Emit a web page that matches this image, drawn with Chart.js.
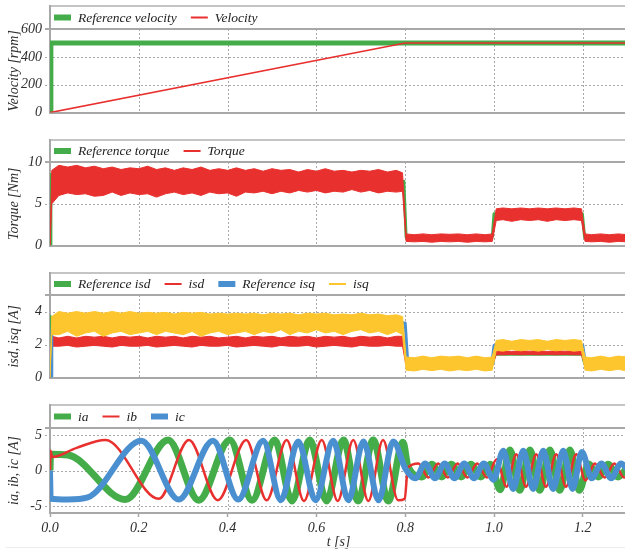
<!DOCTYPE html>
<html><head><meta charset="utf-8">
<script src="https://cdn.jsdelivr.net/npm/chart.js@4.4.0/dist/chart.umd.min.js"></script>
<style>
html,body{margin:0;padding:0;background:#fff;overflow:hidden;width:625px;height:551px;}
.p{position:absolute;left:0;}
canvas{display:block;}
#rule{position:absolute;left:6px;top:547px;width:619px;height:0;border-top:1px solid #ececec;}
</style></head><body>
<div class="p" style="top:4px"><canvas id="c1" width="640" height="120"></canvas></div>
<div class="p" style="top:138px"><canvas id="c2" width="640" height="119"></canvas></div>
<div class="p" style="top:271px"><canvas id="c3" width="640" height="118"></canvas></div>
<div class="p" style="top:403px"><canvas id="c4" width="640" height="148"></canvas></div>
<div id="rule"></div>
<script>
// ---------- data ----------
const timeTicks = [0, 0.2, 0.4, 0.6, 0.8, 1.0, 1.2];
const velTicks = [0, 200, 400, 600];
const torqueTicks = [0, 5, 10];
const dqTicks = [0, 2, 4];
const abcTicks = [-5, 0, 5];

// velocity panel
const refVelT = [0.002, 0.002, 1.3];
const refVelV = [0, 500, 500];
const velT = [0, 0.8, 1.3];
const velV = [0, 500, 500];

// shared time grid for noisy bands (torque, isd, isq)
const bandT = [0, 0.004, 0.02, 0.04, 0.06, 0.08, 0.10, 0.12, 0.14, 0.16, 0.18, 0.20, 0.22, 0.24, 0.26, 0.28, 0.30, 0.32, 0.34, 0.36, 0.38, 0.40, 0.42, 0.44, 0.46, 0.48, 0.50, 0.52, 0.54, 0.56, 0.58, 0.60, 0.62, 0.64, 0.66, 0.68, 0.70, 0.72, 0.74, 0.76, 0.78, 0.794, 0.802, 0.82, 0.84, 0.86, 0.88, 0.90, 0.92, 0.94, 0.96, 0.98, 0.996, 1.005, 1.02, 1.04, 1.06, 1.08, 1.10, 1.12, 1.14, 1.16, 1.18, 1.197, 1.205, 1.22, 1.24, 1.26, 1.28, 1.30];

// torque panel
const refTorqueT = [0.002, 0.002, 0.006, 0.797, 0.802, 0.996, 1.0, 1.199, 1.204, 1.3];
const refTorqueV = [0, 8.5, 7.7, 7.7, 1.0, 1.0, 3.8, 3.8, 1.0, 1.0];
const torqueHi = [0, 9.0, 9.6, 9.4, 9.6, 9.3, 9.5, 9.2, 9.4, 9.1, 9.3, 9.2, 9.5, 9.1, 9.3, 9.0, 9.3, 9.1, 9.4, 9.0, 9.2, 9.0, 9.3, 9.0, 9.2, 8.9, 9.2, 9.0, 9.1, 8.8, 9.1, 8.9, 9.2, 8.9, 9.0, 8.8, 9.0, 8.9, 9.1, 8.8, 9.0, 8.7, 1.4, 1.3, 1.4, 1.3, 1.4, 1.35, 1.4, 1.3, 1.4, 1.3, 1.4, 4.4, 4.5, 4.4, 4.5, 4.4, 4.5, 4.4, 4.5, 4.4, 4.5, 4.4, 1.4, 1.3, 1.4, 1.3, 1.4, 1.3];
const torqueLo = [0, 5.0, 6.0, 6.3, 6.1, 6.2, 5.9, 6.0, 6.4, 6.0, 6.3, 6.1, 6.2, 5.8, 6.2, 6.4, 6.1, 6.3, 6.0, 6.4, 6.2, 6.3, 5.9, 6.4, 6.3, 6.5, 6.2, 6.5, 6.3, 6.6, 6.4, 6.6, 6.3, 6.5, 6.4, 6.7, 6.4, 6.6, 6.3, 6.5, 6.4, 6.5, 0.5, 0.45, 0.5, 0.4, 0.5, 0.45, 0.5, 0.4, 0.5, 0.45, 0.5, 3.0, 3.1, 2.9, 3.1, 3.0, 3.1, 2.9, 3.1, 3.0, 3.1, 3.0, 0.5, 0.45, 0.5, 0.4, 0.5, 0.45];

// isd / isq panel
const refIsdT = [0, 0.0005, 0.003, 0.799, 0.804, 0.997, 1.002, 1.199, 1.204, 1.3];
const refIsdV = [0, 3.7, 2.2, 2.2, 0.85, 0.85, 1.42, 1.42, 0.85, 0.85];
const refIsqT = [0.004, 0.004, 0.006, 0.800, 0.806, 0.995, 1.000, 1.200, 1.206, 1.3];
const refIsqV = [0, 2.7, 3.3, 3.3, 0.8, 0.8, 1.95, 1.95, 0.8, 0.8];
const isqHi = [0, 3.7, 4.0, 3.9, 4.0, 3.9, 4.0, 3.9, 4.0, 3.9, 4.0, 3.9, 3.95, 3.9, 3.95, 3.85, 3.95, 3.9, 3.95, 3.85, 3.9, 3.85, 3.9, 3.85, 3.9, 3.8, 3.9, 3.85, 3.9, 3.8, 3.9, 3.85, 3.9, 3.8, 3.85, 3.8, 3.9, 3.8, 3.85, 3.75, 3.8, 3.7, 1.25, 1.2, 1.3, 1.2, 1.3, 1.25, 1.3, 1.2, 1.3, 1.2, 1.25, 2.25, 2.3, 2.2, 2.3, 2.25, 2.3, 2.2, 2.3, 2.25, 2.3, 2.25, 1.25, 1.2, 1.3, 1.2, 1.3, 1.25];
const isqLo = [0, 2.6, 2.6, 2.8, 2.5, 2.7, 2.8, 2.5, 2.7, 2.8, 2.6, 2.7, 2.8, 2.6, 2.8, 2.7, 2.6, 2.8, 2.5, 2.7, 2.8, 2.6, 2.7, 2.8, 2.6, 2.8, 2.7, 2.9, 2.6, 2.8, 2.7, 2.9, 2.7, 2.8, 2.6, 2.8, 2.9, 2.7, 2.8, 2.6, 2.8, 2.6, 0.45, 0.4, 0.5, 0.42, 0.5, 0.4, 0.48, 0.42, 0.5, 0.4, 0.45, 1.65, 1.6, 1.7, 1.62, 1.68, 1.6, 1.7, 1.62, 1.68, 1.6, 1.65, 0.45, 0.4, 0.5, 0.42, 0.5, 0.4];
const isdHi = [0, 2.5, 2.4, 2.5, 2.4, 2.5, 2.45, 2.5, 2.4, 2.5, 2.45, 2.5, 2.4, 2.5, 2.45, 2.5, 2.4, 2.5, 2.45, 2.5, 2.4, 2.45, 2.5, 2.4, 2.5, 2.45, 2.5, 2.4, 2.5, 2.45, 2.5, 2.4, 2.5, 2.45, 2.5, 2.4, 2.5, 2.45, 2.5, 2.4, 2.5, 2.5, 0.95, 0.95, 0.95, 0.95, 0.95, 0.95, 0.95, 0.95, 0.95, 0.95, 0.95, 1.6, 1.62, 1.58, 1.62, 1.6, 1.62, 1.58, 1.62, 1.6, 1.62, 1.6, 0.95, 0.95, 0.95, 0.95, 0.95, 0.95];
const isdLo = [0, 1.9, 1.9, 1.95, 1.85, 1.9, 1.95, 1.9, 1.85, 1.95, 1.9, 1.9, 1.95, 1.85, 1.9, 1.95, 1.9, 1.85, 1.95, 1.9, 1.9, 1.95, 1.85, 1.9, 1.95, 1.9, 1.85, 1.95, 1.9, 1.9, 1.95, 1.85, 1.9, 1.95, 1.9, 1.85, 1.95, 1.9, 1.9, 1.95, 1.9, 1.9, 0.7, 0.7, 0.7, 0.7, 0.7, 0.7, 0.7, 0.7, 0.7, 0.7, 0.7, 1.38, 1.38, 1.4, 1.38, 1.4, 1.38, 1.4, 1.38, 1.4, 1.38, 1.38, 0.7, 0.7, 0.7, 0.7, 0.7, 0.7];

// phase currents: extrema
const iaT = [0, 0.001, 0.04, 0.17, 0.266, 0.335, 0.405, 0.455, 0.506, 0.545, 0.585, 0.623, 0.661, 0.694, 0.728, 0.762, 0.795, 0.806, 0.838, 0.860, 0.882, 0.904, 0.926, 0.948, 0.970, 0.992, 1.014, 1.036, 1.058, 1.081, 1.103, 1.126, 1.148, 1.171, 1.192, 1.213, 1.235, 1.257, 1.279, 1.3];
const iaV = [0, 2.3, 2.2, -4.1, 4.3, -4.2, 4.3, -4.2, 4.3, -4.3, 4.3, -4.3, 4.3, -4.3, 4.3, -4.3, 4.0, 0.6, -0.9, 0.9, -0.9, 0.9, -0.9, 0.9, -0.9, 0.9, -2.7, 2.9, -2.8, 2.9, -2.8, 2.9, -2.8, 2.9, -2.8, 0.9, -0.9, 0.9, -0.9, 0.4];
const ibT = [0, 0.001, 0.005, 0.06, 0.125, 0.245, 0.313, 0.378, 0.442, 0.488, 0.533, 0.572, 0.612, 0.648, 0.683, 0.717, 0.750, 0.784, 0.799, 0.806, 0.830, 0.852, 0.874, 0.896, 0.918, 0.940, 0.962, 0.984, 1.006, 1.028, 1.050, 1.072, 1.095, 1.117, 1.140, 1.162, 1.185, 1.206, 1.227, 1.249, 1.271, 1.293, 1.3];
const ibV = [0, 2.8, 1.9, 3.2, 4.3, -4.0, 4.3, -4.2, 4.3, -4.2, 4.3, -4.3, 4.3, -4.3, 4.3, -4.3, 4.3, -4.2, -4.0, 0.4, 1.0, -1.0, 1.0, -1.0, 1.0, -1.0, 1.0, -1.0, 1.6, -2.3, 2.3, -2.3, 2.3, -2.3, 2.3, -2.3, 2.3, -1.4, 1.0, -1.0, 1.0, -1.0, -0.9];
const icT = [0, 0.0015, 0.04, 0.085, 0.206, 0.29, 0.367, 0.424, 0.480, 0.520, 0.559, 0.598, 0.638, 0.672, 0.706, 0.740, 0.773, 0.801, 0.823, 0.845, 0.867, 0.889, 0.911, 0.933, 0.955, 0.977, 0.999, 1.021, 1.043, 1.066, 1.088, 1.111, 1.133, 1.156, 1.177, 1.198, 1.220, 1.242, 1.264, 1.286, 1.3];
const icV = [0, -4.0, -4.1, -3.8, 4.2, -4.1, 4.2, -4.1, 4.2, -4.2, 4.1, -4.2, 4.2, -4.2, 4.1, -4.2, 4.1, 0.2, -1.1, 1.0, -1.1, 1.0, -1.1, 1.0, -1.1, 1.0, -1.3, 2.8, -2.6, 2.8, -2.6, 2.8, -2.6, 2.8, -2.6, 2.6, -1.1, 1.0, -1.1, 1.0, 0.2];

// ---------- styling ----------
const FONT = '"Liberation Serif", "Times New Roman", serif';
const GRID = '#a9a9a9';
const FRAME = '#a8a8a8';
const TXT = '#2e2e2e';
const NONE = 'rgba(0,0,0,0)';
const GREEN = '#44ad4a', RED = '#e8302e', BLUE = '#4a90d0', YELLOW = '#fdc62e';

function pts(ts, vs) { return ts.map((t, i) => ({x: t, y: vs[i]})); }

const frameLegend = {
  id: 'frameLegend',
  beforeDatasetsDraw(chart, args, o) {
    const {ctx, chartArea: ca, scales} = chart;
    const top = ca.top - o.height;
    ctx.save();
    // dotted grid lines, positioned by the chart's own scales
    ctx.strokeStyle = GRID;
    ctx.lineWidth = 1;
    ctx.setLineDash([2, 2]);
    ctx.beginPath();
    scales.x.ticks.forEach(t => {
      const px = Math.round(scales.x.getPixelForValue(t.value)) + 0.5;
      if (px <= ca.left + 2) return;
      ctx.moveTo(px, ca.top); ctx.lineTo(px, ca.bottom);
    });
    scales.y.ticks.forEach(t => {
      const py = Math.round(scales.y.getPixelForValue(t.value)) + 0.5;
      if (py >= ca.bottom - 2 || py <= ca.top + 2) return;
      ctx.moveTo(ca.left - 5, py); ctx.lineTo(ca.right, py);
    });
    ctx.stroke();
    ctx.setLineDash([]);
    // legend box frame
    ctx.lineWidth = 2;
    ctx.strokeStyle = '#c4c4c4';
    ctx.beginPath(); ctx.moveTo(ca.left - 1, top); ctx.lineTo(chart.width, top); ctx.stroke();
    ctx.strokeStyle = FRAME;
    ctx.beginPath();
    ctx.moveTo(ca.left - 5, ca.top); ctx.lineTo(chart.width, ca.top);
    ctx.moveTo(ca.left, top - 1); ctx.lineTo(ca.left, ca.top);
    ctx.stroke();
    ctx.restore();
  },
  afterDraw(chart, args, o) {
    const {ctx, chartArea: ca} = chart;
    const cy = ca.top - o.height / 2;
    let x = ca.left + 4;
    ctx.save();
    ctx.font = 'italic 13.5px ' + FONT;
    ctx.textBaseline = 'middle';
    ctx.textAlign = 'left';
    chart.data.datasets.forEach(ds => {
      if (!ds.legendWidth) return;
      ctx.strokeStyle = ds.borderColor;
      ctx.lineWidth = ds.legendWidth;
      ctx.beginPath(); ctx.moveTo(x, cy); ctx.lineTo(x + 17, cy); ctx.stroke();
      x += 17 + 7;
      ctx.fillStyle = '#222';
      ctx.fillText(ds.label, x, cy + 0.5);
      x += ctx.measureText(ds.label).width + 14;
    });
    ctx.restore();
  }
};

function panel(id, o) {
  return new Chart(document.getElementById(id), {
    type: 'line',
    data: {datasets: o.datasets},
    plugins: [frameLegend],
    options: {
      responsive: false, animation: false, events: [],
      layout: {padding: {top: o.padTop, bottom: o.padBottom, left: 0, right: 12.8}},
      plugins: {legend: {display: false}, tooltip: {enabled: false}, frameLegend: {height: o.legendH}},
      elements: {point: {radius: 0}, line: {borderJoinStyle: 'round'}},
      scales: {
        x: {
          type: 'linear', min: 0, max: 1.3,
          afterBuildTicks: s => { s.ticks = timeTicks.map(v => ({value: v})); },
          afterFit: s => { s.height = o.xHeight; },
          grid: {color: NONE, drawTicks: o.showX, tickLength: 4, tickColor: FRAME, tickWidth: 1.5},
          border: {color: FRAME, width: 2},
          ticks: {display: o.showX, padding: 3, color: TXT, autoSkip: false, maxRotation: 0,
                  font: {family: FONT, style: 'italic', size: 14}, callback: v => Number(v).toFixed(1)},
          title: {display: o.showX, text: 't [s]', color: TXT, padding: {top: 0, bottom: 0},
                  font: {family: FONT, style: 'italic', size: 14}}
        },
        y: {
          min: o.yMin, max: o.yMax,
          afterBuildTicks: s => { s.ticks = o.yTicks.map(v => ({value: v})); },
          afterFit: s => { s.width = 50; },
          grid: {color: NONE, tickLength: 5, tickColor: NONE},
          border: {color: FRAME, width: 2},
          ticks: {padding: 3, color: TXT, font: {family: FONT, style: 'italic', size: 14}},
          title: {display: true, text: o.yTitle, color: TXT, padding: {top: 6, bottom: 0},
                  font: {family: FONT, style: 'italic', size: 14}}
        }
      }
    }
  });
}

panel('c1', {
  padTop: 25, padBottom: 10, legendH: 23, xHeight: 0, showX: false,
  yMin: 0, yMax: 600, yTicks: velTicks, yTitle: 'Velocity [rpm]',
  datasets: [
    {label: 'Reference velocity', data: pts(refVelT, refVelV), borderColor: GREEN, borderWidth: 5, legendWidth: 6, order: 2},
    {label: 'Velocity', data: pts(velT, velV), borderColor: RED, borderWidth: 1.6, legendWidth: 2, order: 1}
  ]
});

panel('c2', {
  padTop: 24, padBottom: 10, legendH: 22, xHeight: 0, showX: false,
  yMin: 0, yMax: 10, yTicks: torqueTicks, yTitle: 'Torque [Nm]',
  datasets: [
    {label: 'Reference torque', data: pts(refTorqueT, refTorqueV), borderColor: GREEN, borderWidth: 3, legendWidth: 6, order: 3},
    {label: 'Torque', data: pts(bandT, torqueHi), borderColor: RED, backgroundColor: RED, borderWidth: 1, fill: '+1', legendWidth: 2, order: 1},
    {label: '', data: pts(bandT, torqueLo), borderColor: RED, borderWidth: 1, fill: false, order: 2}
  ]
});

panel('c3', {
  padTop: 24, padBottom: 10, legendH: 22, xHeight: 0, showX: false,
  yMin: 0, yMax: 5, yTicks: dqTicks, yTitle: 'isd, isq [A]',
  datasets: [
    {label: 'Reference isd', data: pts(refIsdT, refIsdV), borderColor: GREEN, borderWidth: 3, legendWidth: 6, order: 6},
    {label: 'isd', data: pts(bandT, isdHi), borderColor: RED, backgroundColor: RED, borderWidth: 1, fill: '+1', legendWidth: 2, order: 4},
    {label: '', data: pts(bandT, isdLo), borderColor: RED, borderWidth: 1, fill: false, order: 5},
    {label: 'Reference isq', data: pts(refIsqT, refIsqV), borderColor: BLUE, borderWidth: 3, legendWidth: 6, order: 3},
    {label: 'isq', data: pts(bandT, isqHi), borderColor: YELLOW, backgroundColor: YELLOW, borderWidth: 1, fill: '+1', legendWidth: 2, order: 1},
    {label: '', data: pts(bandT, isqLo), borderColor: YELLOW, borderWidth: 1, fill: false, order: 2}
  ]
});

panel('c4', {
  padTop: 25, padBottom: 0, legendH: 23, xHeight: 38, showX: true,
  yMin: -6, yMax: 6, yTicks: abcTicks, yTitle: 'ia, ib, ic [A]',
  datasets: [
    {label: 'ia', data: pts(iaT, iaV), borderColor: GREEN, borderWidth: 7, cubicInterpolationMode: 'monotone', legendWidth: 6, order: 3},
    {label: 'ib', data: pts(ibT, ibV), borderColor: RED, borderWidth: 2.5, cubicInterpolationMode: 'monotone', legendWidth: 2, order: 2},
    {label: 'ic', data: pts(icT, icV), borderColor: BLUE, borderWidth: 6, cubicInterpolationMode: 'monotone', legendWidth: 6, order: 1}
  ]
});
</script>
</body></html>
